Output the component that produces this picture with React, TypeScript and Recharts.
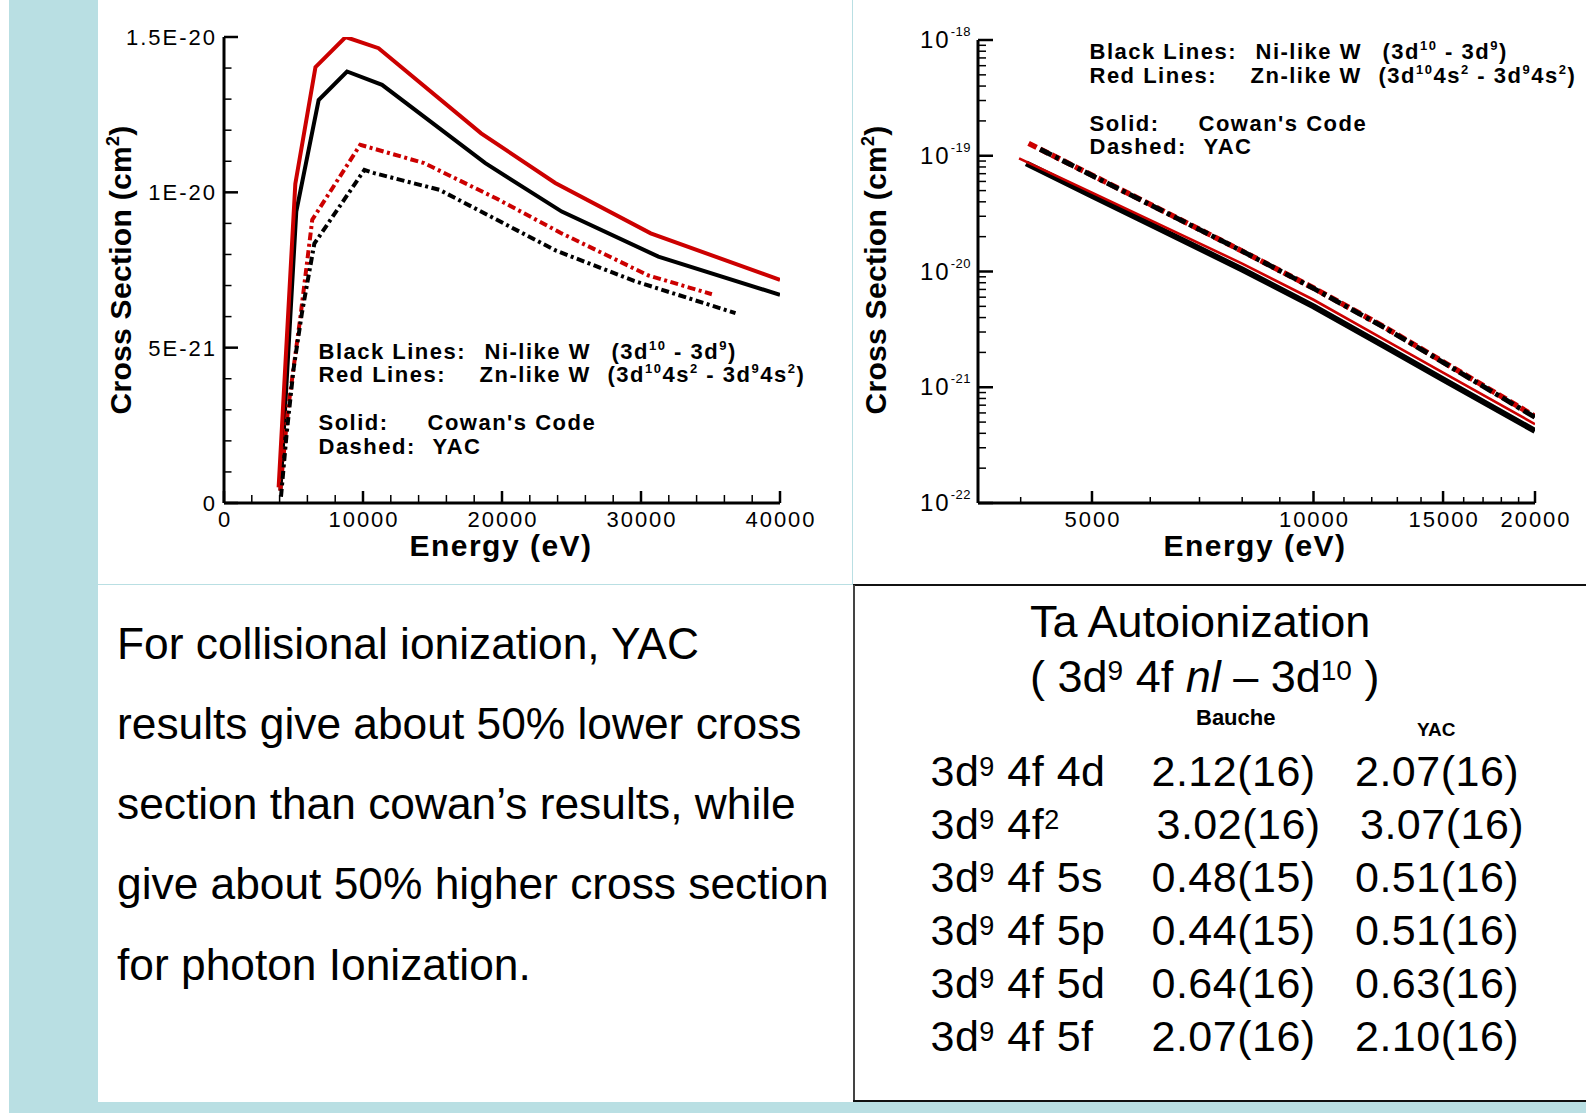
import React from "react";
import { LineChart, Line, XAxis, YAxis } from "recharts";

// ─── Data ─────────────────────────────────────────────────
// Left panel: collisional ionization cross section (cm²) vs energy (eV)

const niCowan = [
  { x: 4060, y: 0.04e-20 },
  { x: 5200, y: 0.938e-20 },
  { x: 6810, y: 1.297e-20 },
  { x: 8850, y: 1.389e-20 },
  { x: 11370, y: 1.346e-20 },
  { x: 18800, y: 1.094e-20 },
  { x: 24300, y: 0.938e-20 },
  { x: 31250, y: 0.793e-20 },
  { x: 40000, y: 0.67e-20 },
];

const znCowan = [
  { x: 3930, y: 0.05e-20 },
  { x: 5130, y: 1.027e-20 },
  { x: 6580, y: 1.403e-20 },
  { x: 8750, y: 1.5e-20 },
  { x: 11120, y: 1.464e-20 },
  { x: 18500, y: 1.19e-20 },
  { x: 23830, y: 1.03e-20 },
  { x: 30700, y: 0.868e-20 },
  { x: 40000, y: 0.718e-20 },
];

const niYac = [
  { x: 4100, y: 0.02e-20 },
  { x: 4500, y: 0.22e-20 },
  { x: 5000, y: 0.43e-20 },
  { x: 5600, y: 0.61e-20 },
  { x: 6500, y: 0.835e-20 },
  { x: 10100, y: 1.072e-20 },
  { x: 10800, y: 1.062e-20 },
  { x: 15500, y: 1.008e-20 },
  { x: 23900, y: 0.812e-20 },
  { x: 29500, y: 0.715e-20 },
  { x: 36800, y: 0.611e-20 },
];

const znYac = [
  { x: 4050, y: 0.04e-20 },
  { x: 4600, y: 0.3e-20 },
  { x: 5500, y: 0.6e-20 },
  { x: 6350, y: 0.912e-20 },
  { x: 9800, y: 1.153e-20 },
  { x: 14400, y: 1.094e-20 },
  { x: 19600, y: 0.98e-20 },
  { x: 24200, y: 0.87e-20 },
  { x: 30500, y: 0.733e-20 },
  { x: 35100, y: 0.672e-20 },
];

// Right panel: photo ionization cross section (cm²), log-log

const niCowanLog = [
  { x: 4070, y: 8.6e-20 },
  { x: 5000, y: 4.5e-20 },
  { x: 6000, y: 2.56e-20 },
  { x: 8000, y: 1.04e-20 },
  { x: 10000, y: 5.0e-21 },
  { x: 12500, y: 2.25e-21 },
  { x: 15000, y: 1.17e-21 },
  { x: 20000, y: 4.2e-22 },
];

const znCowanLog = [
  { x: 3980, y: 9.5e-20 },
  { x: 5000, y: 4.8e-20 },
  { x: 6000, y: 2.78e-20 },
  { x: 8000, y: 1.17e-20 },
  { x: 10000, y: 5.7e-21 },
  { x: 12500, y: 2.57e-21 },
  { x: 15000, y: 1.34e-21 },
  { x: 20000, y: 4.8e-22 },
];

const znYacLog = [
  { x: 4100, y: 1.28e-19 },
  { x: 5000, y: 6.8e-20 },
  { x: 6000, y: 3.8e-20 },
  { x: 8000, y: 1.5e-20 },
  { x: 10000, y: 7.2e-21 },
  { x: 12500, y: 3.3e-21 },
  { x: 15000, y: 1.66e-21 },
  { x: 20000, y: 5.6e-22 },
];

const niYacLog = [
  { x: 4250, y: 1.14e-19 },
  { x: 5000, y: 6.75e-20 },
  { x: 6000, y: 3.77e-20 },
  { x: 8000, y: 1.5e-20 },
  { x: 10000, y: 7.15e-21 },
  { x: 12500, y: 3.26e-21 },
  { x: 15000, y: 1.64e-21 },
  { x: 20000, y: 5.5e-22 },
];

// ─── Ticks ────────────────────────────────────────────────

const linXTicks = [
  0, 2000, 4000, 6000, 8000, 10000, 12000, 14000, 16000, 18000, 20000, 22000,
  24000, 26000, 28000, 30000, 32000, 34000, 36000, 38000, 40000,
];
const linXMajor = [0, 10000, 20000, 30000, 40000];
const linXLabels = ["0", "10000", "20000", "30000", "40000"];

const linYTicks = [
  0, 1e-21, 2e-21, 3e-21, 4e-21, 5e-21, 6e-21, 7e-21, 8e-21, 9e-21, 1e-20,
  1.1e-20, 1.2e-20, 1.3e-20, 1.4e-20, 1.5e-20,
];
const linYMajor = [0, 5e-21, 1e-20, 1.5e-20];
const linYLabels = ["0", "5E-21", "1E-20", "1.5E-20"];

const logXTicks = [
  4000, 5000, 6000, 7000, 8000, 9000, 10000, 11000, 12000, 13000, 14000, 15000,
  16000, 17000, 18000, 19000, 20000,
];
const logXMajor = [5000, 10000, 15000, 20000];
const logXLabels = ["5000", "10000", "15000", "20000"];

const logYDecades = [1e-22, 1e-21, 1e-20, 1e-19, 1e-18];
const logYExponents = ["-22", "-21", "-20", "-19", "-18"];
const logYMinorSteps = [2, 3, 4, 5, 6, 7, 8, 9];
const logYTicks = logYDecades.flatMap((d, i) =>
  i < logYDecades.length - 1 ? [d, ...logYMinorSteps.map((m) => m * d)] : [d]
);

// ─── Table / text ─────────────────────────────────────────

const paragraph = [
  "For collisional ionization, YAC",
  "results give about 50% lower cross",
  "section than cowan\u2019s results, while",
  "give about 50% higher cross section",
  "for photon Ionization.",
];

const configTails = ["4f 4d", "4f", "4f 5s", "4f 5p", "4f 5d", "4f 5f"];
const baucheVals = ["2.12(16)", "3.02(16)", "0.48(15)", "0.44(15)", "0.64(16)", "2.07(16)"];
const yacVals = ["2.07(16)", "3.07(16)", "0.51(16)", "0.51(16)", "0.63(16)", "2.10(16)"];

// ─── Style ────────────────────────────────────────────────

const FONT = '"Liberation Sans", Arial, Helvetica, sans-serif';
const BLUE = "#b9dfe3";
const RED = "#cc0000";

function idxOf(list: number[], v: number) {
  return list.findIndex((m) => m === v || Math.abs(m - v) <= Math.abs(m) * 1e-6);
}

function bottomTick(majors: number[], labels: string[], majorLen: number, minorLen: number) {
  return (props: any) => {
    const { x, y, payload } = props;
    const i = idxOf(majors, payload.value);
    return (
      <g>
        <line
          x1={x}
          x2={x}
          y1={y}
          y2={y - (i >= 0 ? majorLen : minorLen)}
          stroke="#000"
          strokeWidth={i >= 0 ? 2.5 : 1.5}
        />
        {i >= 0 && (
          <text
            x={x + 1}
            y={y + 24}
            textAnchor="middle"
            fontFamily={FONT}
            fontSize={22}
            letterSpacing={2}
            fill="#000"
          >
            {labels[i]}
          </text>
        )}
      </g>
    );
  };
}

function leftTick(
  majors: number[],
  majorLen: number,
  minorLen: number,
  fontSize: number,
  label: (i: number) => React.ReactNode
) {
  return (props: any) => {
    const { x, y, payload } = props;
    const i = idxOf(majors, payload.value);
    return (
      <g>
        <line
          x1={x}
          x2={x + (i >= 0 ? majorLen : minorLen)}
          y1={y}
          y2={y}
          stroke="#000"
          strokeWidth={i >= 0 ? 2.5 : 1.5}
        />
        {i >= 0 && (
          <text
            x={x - 7}
            y={y + 8}
            textAnchor="end"
            fontFamily={FONT}
            fontSize={fontSize}
            letterSpacing={2}
            fill="#000"
          >
            {label(i)}
          </text>
        )}
      </g>
    );
  };
}

const axisLine = { stroke: "#000", strokeWidth: 3 };

// ─── Pieces ───────────────────────────────────────────────

function Sup({ children, size, rise }: { children: React.ReactNode; size: number; rise: number }) {
  return (
    <span style={{ fontSize: size, position: "relative", top: -rise }}>{children}</span>
  );
}

function CurveKey({ left, top }: { left: number; top: number }) {
  const base: React.CSSProperties = {
    position: "absolute",
    fontFamily: FONT,
    fontWeight: "bold",
    fontSize: 22,
    lineHeight: "22px",
    letterSpacing: 1.5,
    whiteSpace: "nowrap",
    color: "#000",
  };
  const at = (dx: number, dy: number): React.CSSProperties => ({ ...base, left: left + dx, top: top + dy - 11 });
  return (
    <>
      <div style={at(0, 0)}>Black Lines:</div>
      <div style={at(166, 0)}>Ni-like W</div>
      <div style={at(293, 0)}>
        (3d<Sup size={13} rise={9}>10</Sup> - 3d<Sup size={13} rise={9}>9</Sup>)
      </div>
      <div style={at(0, 23.3)}>Red Lines:</div>
      <div style={at(161, 23.3)}>Zn-like W</div>
      <div style={at(289, 23.3)}>
        (3d<Sup size={13} rise={9}>10</Sup>4s<Sup size={13} rise={9}>2</Sup> - 3d
        <Sup size={13} rise={9}>9</Sup>4s<Sup size={13} rise={9}>2</Sup>)
      </div>
      <div style={at(0, 71.3)}>Solid:</div>
      <div style={at(109, 71.3)}>Cowan's Code</div>
      <div style={at(0, 94.8)}>Dashed:</div>
      <div style={at(114, 94.8)}>YAC</div>
    </>
  );
}

function AxisTitles({ xCenter, yCenter }: { xCenter: number; yCenter: number }) {
  const t: React.CSSProperties = {
    position: "absolute",
    fontFamily: FONT,
    fontWeight: "bold",
    fontSize: 30,
    lineHeight: "22px",
    whiteSpace: "nowrap",
    color: "#000",
  };
  return (
    <>
      <div style={{ ...t, left: xCenter, top: 546, letterSpacing: 1.5, transform: "translate(-50%, -50%)" }}>
        Energy (eV)
      </div>
      <div
        style={{
          ...t,
          left: yCenter,
          top: 270,
          letterSpacing: 0.3,
          transform: "translate(-50%, -50%) rotate(-90deg)",
        }}
      >
        Cross Section (cm<Sup size={18} rise={12}>2</Sup>)
      </div>
    </>
  );
}

function CollisionalChart() {
  return (
    <div style={{ position: "absolute", left: 100, top: 0 }}>
      <LineChart width={740} height={580} margin={{ top: 37, right: 60, bottom: 0, left: 0 }}>
        <XAxis
          type="number"
          dataKey="x"
          domain={[0, 40000]}
          allowDataOverflow
          ticks={linXTicks}
          interval={0}
          tickSize={0}
          tickMargin={0}
          tickLine={false}
          height={77}
          axisLine={axisLine}
          tick={bottomTick(linXMajor, linXLabels, 12, 8)}
        />
        <YAxis
          type="number"
          domain={[0, 1.5e-20]}
          allowDataOverflow
          ticks={linYTicks}
          interval={0}
          tickSize={0}
          tickMargin={0}
          tickLine={false}
          width={124}
          axisLine={axisLine}
          tick={leftTick(linYMajor, 14, 7.5, 22, (i) => linYLabels[i])}
        />
        <Line data={niCowan} dataKey="y" type="linear" stroke="#000" strokeWidth={4} dot={false} activeDot={false} isAnimationActive={false} />
        <Line data={znCowan} dataKey="y" type="linear" stroke={RED} strokeWidth={4} dot={false} activeDot={false} isAnimationActive={false} />
        <Line data={znYac} dataKey="y" type="linear" stroke={RED} strokeWidth={4} strokeDasharray="8 3.5 3 3.5" dot={false} activeDot={false} isAnimationActive={false} />
        <Line data={niYac} dataKey="y" type="linear" stroke="#000" strokeWidth={4} strokeDasharray="8 3.5 3 3.5" dot={false} activeDot={false} isAnimationActive={false} />
      </LineChart>
    </div>
  );
}

function PhotoChart() {
  return (
    <div style={{ position: "absolute", left: 852, top: 0 }}>
      <LineChart width={734} height={580} margin={{ top: 40, right: 51, bottom: 0, left: 0 }}>
        <XAxis
          type="number"
          dataKey="x"
          scale="log"
          domain={[3500, 20000]}
          allowDataOverflow
          ticks={logXTicks}
          interval={0}
          tickSize={0}
          tickMargin={0}
          tickLine={false}
          height={77}
          axisLine={axisLine}
          tick={bottomTick(logXMajor, logXLabels, 12, 6)}
        />
        <YAxis
          type="number"
          scale="log"
          domain={[1e-22, 1e-18]}
          allowDataOverflow
          ticks={logYTicks}
          interval={0}
          tickSize={0}
          tickMargin={0}
          tickLine={false}
          width={126}
          axisLine={axisLine}
          tick={leftTick(logYDecades, 15, 8, 24, (i) => (
            <>
              <tspan>10</tspan>
              <tspan fontSize={13} dy={-12} letterSpacing={0.5}>
                {logYExponents[i]}
              </tspan>
            </>
          ))}
        />
        <Line data={niCowanLog} dataKey="y" type="linear" stroke="#000" strokeWidth={6} dot={false} activeDot={false} isAnimationActive={false} />
        <Line data={znCowanLog} dataKey="y" type="linear" stroke={RED} strokeWidth={2.6} dot={false} activeDot={false} isAnimationActive={false} />
        <Line data={znYacLog} dataKey="y" type="linear" stroke={RED} strokeWidth={5.5} strokeDasharray="9 4" dot={false} activeDot={false} isAnimationActive={false} />
        <Line data={niYacLog} dataKey="y" type="linear" stroke="#000" strokeWidth={5} strokeDasharray="13 4 4 4" dot={false} activeDot={false} isAnimationActive={false} />
      </LineChart>
    </div>
  );
}

function Summary() {
  return (
    <>
      {paragraph.map((line, i) => (
        <div
          key={i}
          style={{
            position: "absolute",
            left: 117,
            top: 643 + i * 80.3 - 21.5,
            fontFamily: FONT,
            fontSize: 44.3,
            lineHeight: "44px",
            whiteSpace: "nowrap",
            color: "#000",
          }}
        >
          {line}
        </div>
      ))}
    </>
  );
}

function AutoionTable() {
  const big: React.CSSProperties = {
    position: "absolute",
    fontFamily: FONT,
    fontSize: 45,
    lineHeight: "45px",
    whiteSpace: "nowrap",
    color: "#000",
  };
  const cell: React.CSSProperties = { ...big, fontSize: 43, lineHeight: "43px", letterSpacing: 0.5 };
  return (
    <>
      <div style={{ ...big, left: 1030, top: 621 - 22 }}>Ta Autoionization</div>
      <div style={{ ...big, left: 1030, top: 676 - 22 }}>
        ( 3d<Sup size={28} rise={12}>9</Sup> 4f <i>nl</i> – 3d<Sup size={28} rise={12}>10</Sup> )
      </div>
      <div style={{ ...big, left: 1196, top: 718 - 11, fontSize: 22, lineHeight: "22px", fontWeight: "bold" }}>
        Bauche
      </div>
      <div style={{ ...big, left: 1417, top: 729 - 9.5, fontSize: 19, lineHeight: "19px", fontWeight: "bold" }}>
        YAC
      </div>
      {configTails.map((tail, i) => {
        const top = 770.5 + i * 53.1 - 21;
        const nudge = i === 1 ? 5 : 0;
        return (
          <React.Fragment key={i}>
            <div style={{ ...cell, left: 930.5, top }}>
              3d<Sup size={27} rise={10}>9</Sup> {i === 1 ? <>4f<Sup size={27} rise={10}>2</Sup></> : tail}
            </div>
            <div style={{ ...cell, left: 1151.5 + nudge, top }}>{baucheVals[i]}</div>
            <div style={{ ...cell, left: 1355 + nudge, top }}>{yacVals[i]}</div>
          </React.Fragment>
        );
      })}
    </>
  );
}

// ─── App ──────────────────────────────────────────────────

export default function App() {
  return (
    <div
      style={{
        position: "absolute",
        left: 0,
        top: 0,
        width: 1586,
        height: 1113,
        background: "#fff",
        overflow: "hidden",
      }}
    >
      {/* slide frame */}
      <div style={{ position: "absolute", left: 9, top: 0, width: 89, height: 1113, background: BLUE }} />
      <div style={{ position: "absolute", left: 98, top: 1102, width: 1488, height: 11, background: BLUE }} />
      <div style={{ position: "absolute", left: 851.5, top: 0, width: 1.5, height: 585, background: BLUE }} />
      <div style={{ position: "absolute", left: 98, top: 583.5, width: 755, height: 1.5, background: BLUE }} />
      <div style={{ position: "absolute", left: 853, top: 584, width: 733, height: 2, background: "#111" }} />
      <div style={{ position: "absolute", left: 853, top: 585, width: 1.5, height: 517, background: "#444" }} />
      <div style={{ position: "absolute", left: 853, top: 1100, width: 733, height: 2, background: "#111" }} />

      <CollisionalChart />
      <PhotoChart />

      <AxisTitles xCenter={501} yCenter={123} />
      <AxisTitles xCenter={1255} yCenter={878} />
      <CurveKey left={318.5} top={351.7} />
      <CurveKey left={1089.5} top={52.3} />

      <Summary />
      <AutoionTable />
    </div>
  );
}
